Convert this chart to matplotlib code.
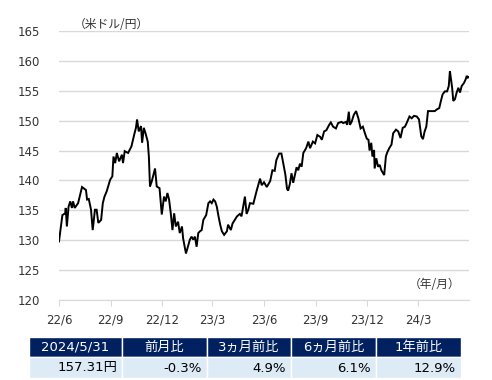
import matplotlib
matplotlib.use('Agg')
import matplotlib.pyplot as plt
import matplotlib.dates as mdates
from matplotlib.patches import Rectangle
import pandas as pd

# USD/JPY
dates = [
    "2022-06-01", "2022-06-07", "2022-06-12", "2022-06-13", "2022-06-15", "2022-06-18",
    "2022-06-21", "2022-06-24", "2022-06-26", "2022-06-29", "2022-07-05", "2022-07-12",
    "2022-07-19", "2022-07-21", "2022-07-24", "2022-07-28", "2022-07-31", "2022-08-04",
    "2022-08-07", "2022-08-10", "2022-08-15", "2022-08-18", "2022-08-21", "2022-08-25",
    "2022-08-31", "2022-09-04", "2022-09-06", "2022-09-09", "2022-09-12", "2022-09-16",
    "2022-09-21", "2022-09-23", "2022-09-26", "2022-10-02", "2022-10-08", "2022-10-13",
    "2022-10-16", "2022-10-18", "2022-10-21", "2022-10-25", "2022-10-27", "2022-10-30",
    "2022-11-02", "2022-11-06", "2022-11-08", "2022-11-10", "2022-11-13", "2022-11-19",
    "2022-11-22", "2022-11-27", "2022-12-01", "2022-12-05", "2022-12-08", "2022-12-11",
    "2022-12-14", "2022-12-17", "2022-12-20", "2022-12-23", "2022-12-26", "2022-12-30",
    "2023-01-02", "2023-01-06", "2023-01-08", "2023-01-13", "2023-01-15", "2023-01-20",
    "2023-01-23", "2023-01-26", "2023-01-29", "2023-02-01", "2023-02-04", "2023-02-07",
    "2023-02-10", "2023-02-13", "2023-02-18", "2023-02-22", "2023-02-25", "2023-02-28",
    "2023-03-03", "2023-03-06", "2023-03-09", "2023-03-12", "2023-03-15", "2023-03-18",
    "2023-03-22", "2023-03-27", "2023-03-29", "2023-04-03", "2023-04-06", "2023-04-10",
    "2023-04-14", "2023-04-19", "2023-04-22", "2023-04-28", "2023-05-01", "2023-05-04",
    "2023-05-07", "2023-05-13", "2023-05-19", "2023-05-25", "2023-05-28", "2023-06-01",
    "2023-06-06", "2023-06-12", "2023-06-16", "2023-06-20", "2023-06-23", "2023-06-28",
    "2023-07-02", "2023-07-05", "2023-07-09", "2023-07-12", "2023-07-14", "2023-07-17",
    "2023-07-20", "2023-07-23", "2023-07-26", "2023-07-29", "2023-08-01", "2023-08-04",
    "2023-08-07", "2023-08-10", "2023-08-15", "2023-08-19", "2023-08-22", "2023-08-27",
    "2023-08-31", "2023-09-04", "2023-09-09", "2023-09-12", "2023-09-16", "2023-09-20",
    "2023-09-25", "2023-09-28", "2023-10-02", "2023-10-07", "2023-10-11", "2023-10-17",
    "2023-10-20", "2023-10-25", "2023-10-27", "2023-10-30", "2023-11-01", "2023-11-04",
    "2023-11-08", "2023-11-12", "2023-11-16", "2023-11-20", "2023-11-24", "2023-11-28",
    "2023-12-01", "2023-12-04", "2023-12-06", "2023-12-09", "2023-12-11", "2023-12-14",
    "2023-12-15", "2023-12-18", "2023-12-21", "2023-12-24", "2023-12-27", "2024-01-01",
    "2024-01-04", "2024-01-06", "2024-01-10", "2024-01-14", "2024-01-17", "2024-01-22",
    "2024-01-26", "2024-01-30", "2024-02-03", "2024-02-07", "2024-02-10", "2024-02-15",
    "2024-02-19", "2024-02-23", "2024-02-28", "2024-03-03", "2024-03-07", "2024-03-10",
    "2024-03-13", "2024-03-16", "2024-03-19", "2024-03-25", "2024-03-31", "2024-04-04",
    "2024-04-08", "2024-04-11", "2024-04-14", "2024-04-18", "2024-04-22", "2024-04-25",
    "2024-04-27", "2024-04-29", "2024-05-01", "2024-05-03", "2024-05-06", "2024-05-09",
    "2024-05-12", "2024-05-15", "2024-05-18", "2024-05-22", "2024-05-25", "2024-05-27",
    "2024-05-29", "2024-05-31",
]
rates = [
    129.8, 134.2, 134.5, 135.4, 132.3, 135.6,
    136.5, 135.4, 136.5, 135.4, 136.2, 138.9,
    138.4, 136.8, 136.9, 135.1, 131.7, 135.1,
    135.1, 132.9, 133.4, 136.2, 137.3, 138.2,
    140.1, 140.7, 144.0, 142.9, 144.6, 143.2,
    144.3, 142.9, 144.9, 144.6, 145.7, 147.7,
    148.8, 150.2, 148.2, 149.1, 146.3, 148.8,
    147.9, 146.5, 144.0, 139.0, 139.8, 142.0,
    139.0, 138.7, 134.3, 137.3, 136.5, 137.9,
    136.8, 134.5, 131.7, 134.5, 132.3, 133.1,
    131.2, 132.3, 130.3, 127.8, 128.4, 130.1,
    130.6, 130.1, 130.6, 128.9, 131.2, 131.5,
    131.7, 133.4, 134.2, 136.2, 136.5, 136.2,
    136.8, 136.5, 135.6, 134.0, 132.6, 131.5,
    130.9, 131.5, 132.6, 131.7, 132.8, 133.4,
    134.0, 134.4, 134.0, 137.3, 134.4, 135.1,
    136.2, 136.1, 138.3, 140.3, 139.2, 139.7,
    138.9, 139.9, 141.7, 141.6, 143.4, 144.5,
    144.5, 143.0, 141.0, 138.6, 138.3, 139.4,
    141.2, 139.6, 140.9, 142.2, 141.7, 142.8,
    142.3, 144.6, 145.4, 146.5, 145.4, 146.5,
    146.2, 147.6, 147.3, 146.8, 148.2, 148.4,
    149.3, 149.7, 149.0, 148.7, 149.6, 149.8,
    149.6, 149.8, 149.3, 151.5, 149.3, 149.8,
    151.0, 151.6, 150.4, 148.7, 149.0, 147.8,
    147.0, 146.8, 145.0, 146.3, 144.0, 145.1,
    142.0, 143.7, 142.3, 142.6, 141.7, 140.9,
    144.0, 144.6, 145.4, 146.0, 147.9, 148.5,
    148.2, 147.1, 148.8, 149.0, 149.6, 150.7,
    150.4, 150.8, 150.7, 150.2, 147.4, 146.9,
    148.2, 149.0, 151.6, 151.6, 151.6, 151.9,
    152.1, 153.3, 154.4, 154.9, 154.9, 155.8,
    158.3, 156.9, 155.5, 153.3, 153.6, 154.7,
    155.5, 154.7, 155.8, 156.3, 156.9, 157.5,
    157.2, 157.31,
]

tick_dates = ["2022-06-01", "2022-09-01", "2022-12-01", "2023-03-01",
              "2023-06-01", "2023-09-01", "2023-12-01", "2024-03-01"]
tick_labels = ["22/6", "22/9", "22/12", "23/3", "23/6", "23/9", "23/12", "24/3"]
y_ticks = [120, 125, 130, 135, 140, 145, 150, 155, 160, 165]

table_head = ["2024/5/31", "前月比", "3ヵ月前比", "6ヵ月前比", "1年前比"]
table_vals = ["157.31円", "-0.3%", "4.9%", "6.1%", "12.9%"]

FONT = ['DejaVu Sans', 'Noto Sans CJK JP']
plt.rcParams['font.family'] = FONT

fig = plt.figure(figsize=(4.92, 3.80), dpi=100)
ax = fig.add_axes([59 / 492, 1 - 300 / 380, 410 / 492, 269 / 380])

x = pd.to_datetime(dates)
ax.plot(x, rates, color='black', lw=1.4, solid_joinstyle='miter')

ax.set_ylim(120, 165)
ax.set_xlim(pd.Timestamp("2022-06-01"), pd.Timestamp("2024-05-31"))
ax.set_yticks(y_ticks)
ax.set_xticks(pd.to_datetime(tick_dates))
ax.set_xticklabels(tick_labels)
ax.grid(axis='y', color='#d9d9d9', lw=1)
ax.set_axisbelow(True)
for s in ['top', 'right', 'left']:
    ax.spines[s].set_visible(False)
ax.spines['bottom'].set_color('#d9d9d9')
ax.tick_params(axis='y', length=0, pad=14, labelsize=8.5, labelcolor='#333333')
ax.tick_params(axis='x', length=4, color='#d9d9d9', pad=6, labelsize=8.5, labelcolor='#333333')

fig.text(74 / 492, 1 - 25 / 380, "（米ドル/円）", fontsize=8.5, color='#333333',
         va='center', ha='left', family=['Noto Sans CJK JP', 'DejaVu Sans'])
fig.text(460 / 492, 1 - 285 / 380, "（年/月）", fontsize=8.5, color='#333333',
         va='center', ha='right', family=['Noto Sans CJK JP', 'DejaVu Sans'])

# table under the chart
edges = [29, 122, 207, 291, 376, 461]
W, H = 492, 380
for i in range(5):
    x0, x1 = edges[i], edges[i + 1]
    fig.patches.append(Rectangle((x0 / W, 1 - 357 / H), (x1 - x0) / W, 20 / H,
                                 transform=fig.transFigure, facecolor='#002060',
                                 edgecolor='white', lw=1))
    fig.patches.append(Rectangle((x0 / W, 1 - 378 / H), (x1 - x0) / W, 21 / H,
                                 transform=fig.transFigure, facecolor='#ddebf7',
                                 edgecolor='white', lw=1))
    fig.text((x0 + x1) / 2 / W, 1 - 347 / H, table_head[i], color='white',
             fontsize=9.5, ha='center', va='center')
    fig.text((x1 - 5) / W, 1 - 368 / H, table_vals[i], color='black',
             fontsize=9.5, ha='right', va='center')

fig.savefig('out.png', dpi=100)
